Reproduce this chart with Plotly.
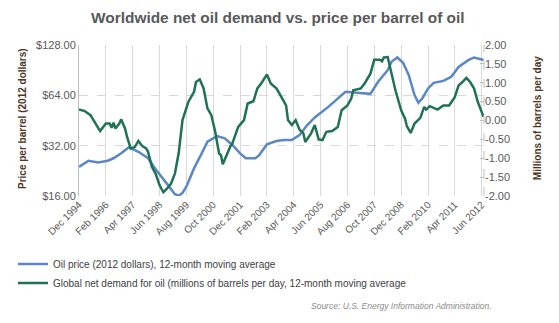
import plotly.graph_objects as go

# ---- data ----
price_dates = ["1994-12", "1995-05", "1995-10", "1996-03", "1996-06", "1996-10", "1997-02", "1997-07",
               "1997-12", "1998-04", "1998-09", "1999-02", "1999-04", "1999-06", "1999-08", "1999-12",
               "2000-04", "2000-07", "2000-12", "2001-04", "2001-08", "2001-12", "2002-03", "2002-08",
               "2002-10", "2003-02", "2003-07", "2003-11", "2004-03", "2004-07", "2004-11", "2005-03",
               "2005-10", "2006-03", "2006-07", "2006-11", "2007-04", "2007-08", "2007-12", "2008-03",
               "2008-05", "2008-07", "2008-10", "2009-01", "2009-04", "2009-07", "2009-09", "2009-11",
               "2010-02", "2010-05", "2010-10", "2011-02", "2011-06", "2011-11", "2012-02", "2012-06",
               "2012-07"]
price_values = [23.9, 26.0, 25.4, 26.0, 26.9, 28.8, 31.3, 29.4,
                26.9, 23.1, 19.5, 16.4, 16.05, 16.7, 18.2, 23.4,
                28.8, 33.8, 36.5, 35.4, 32.3, 28.8, 26.9, 26.9,
                28.1, 32.6, 34.1, 34.6, 34.6, 37.0, 42.5, 47.2,
                54.6, 61.3, 67.2, 66.6, 65.7, 65.3, 77.1, 84.5,
                90.5, 101.5, 107.8, 100.1, 84.5, 64.2, 57.7, 61.3,
                70.4, 76.0, 78.1, 82.5, 94.7, 103.9, 107.8, 104.9,
                103.9]

demand_dates = ["1994-12", "1995-03", "1995-06", "1995-09", "1995-11", "1996-02", "1996-04", "1996-05",
                "1996-06", "1996-07", "1996-09", "1996-10", "1996-12", "1997-01", "1997-03", "1997-05",
                "1997-07", "1997-09", "1997-11", "1997-12", "1998-02", "1998-04", "1998-06", "1998-08",
                "1998-10", "1998-12", "1999-02", "1999-04", "1999-06", "1999-09", "1999-12", "2000-01",
                "2000-03", "2000-05", "2000-07", "2000-09", "2000-11", "2001-01", "2001-02", "2001-03",
                "2001-05", "2001-07", "2001-08", "2001-11", "2002-02", "2002-04", "2002-07", "2002-09",
                "2002-11", "2003-02", "2003-04", "2003-07", "2003-09", "2003-12", "2004-01", "2004-03",
                "2004-05", "2004-07", "2004-09", "2004-10", "2005-01", "2005-03", "2005-05", "2005-07",
                "2005-09", "2005-12", "2006-03", "2006-05", "2006-08", "2006-10", "2006-11", "2007-03",
                "2007-05", "2007-08", "2007-10", "2008-01", "2008-02", "2008-03", "2008-05", "2008-06",
                "2008-08", "2008-09", "2008-12", "2009-02", "2009-03", "2009-05", "2009-07", "2009-10",
                "2009-12", "2010-01", "2010-03", "2010-07", "2010-10", "2011-01", "2011-04", "2011-06",
                "2011-08", "2011-10", "2011-12", "2012-02", "2012-04", "2012-06", "2012-07"]
demand_values = [0.29, 0.25, 0.14, -0.12, -0.28, -0.08, -0.08, -0.19,
                 -0.06, -0.21, -0.08, 0.03, -0.21, -0.43, -0.74, -0.71,
                 -0.54, -0.68, -0.74, -0.83, -1.23, -1.41, -1.71, -1.90,
                 -1.80, -1.67, -1.40, -0.87, 0.01, 0.49, 0.76, 1.02,
                 1.09, 0.85, 0.32, 0.14, -0.30, -0.87, -0.92, -1.16,
                 -0.92, -0.68, -0.61, -0.17, 0.01, 0.45, 0.51, 0.85,
                 0.98, 1.22, 0.98, 0.85, 0.67, 0.40, 0.01, -0.12,
                 0.01, -0.24, -0.34, -0.57, -0.34, -0.12, -0.50, -0.52,
                 -0.30, -0.28, -0.17, 0.27, 0.40, 0.58, 0.80, 0.85,
                 0.98, 1.24, 1.61, 1.61, 1.57, 1.67, 1.68, 1.46,
                 1.02, 0.80, 0.27, 0.05, -0.15, -0.33, -0.08, 0.07,
                 0.36, 0.29, 0.38, 0.29, 0.40, 0.40, 0.62, 0.93,
                 1.02, 1.13, 1.02, 0.85, 0.49, 0.23, 0.10]

x_tick_dates = ["1994-12-01", "1996-02-01", "1997-04-01", "1998-06-01", "1999-08-01", "2000-10-01",
                "2001-12-01", "2003-02-01", "2004-04-01", "2005-06-01", "2006-08-01", "2007-10-01",
                "2008-12-01", "2010-02-01", "2011-04-01", "2012-06-01"]
x_tick_labels = ["Dec 1994", "Feb 1996", "Apr 1997", "Jun 1998", "Aug 1999", "Oct 2000",
                 "Dec 2001", "Feb 2003", "Apr 2004", "Jun 2005", "Aug 2006", "Oct 2007",
                 "Dec 2008", "Feb 2010", "Apr 2011", "Jun 2012"]
price_ticks = [16, 32, 64, 128]
price_tick_labels = ["$16.00", "$32.00", "$64.00", "$128.00"]
demand_ticks = [-2.0, -1.5, -1.0, -0.5, 0.0, 0.5, 1.0, 1.5, 2.0]
demand_tick_labels = ["-2.00", "-1.50", "-1.00", "-0.50", "0.00", "0.50", "1.00", "1.50", "2.00"]

title_text = "Worldwide net oil demand vs. price per barrel of oil"
price_name = "Oil price (2012 dollars), 12-month moving average"
demand_name = "Global net demand for oil (millions of barrels per day, 12-month moving average"
left_title = "Price per barrel (2012 dollars)"
right_title = "Millions of barrels per day"
source_text = "Source: U.S. Energy Information Administration."

FONT = "Liberation Sans, Arial, sans-serif"
BLUE = "#5b87c6"
GREEN = "#1f7257"
TITLE_BROWN = "#4f3526"

fig = go.Figure()
fig.add_trace(go.Scatter(x=price_dates, y=price_values, name=price_name, mode="lines",
                         line=dict(color=BLUE, width=2.5), yaxis="y"))
fig.add_trace(go.Scatter(x=demand_dates, y=demand_values, name=demand_name, mode="lines",
                         line=dict(color=GREEN, width=2.5), yaxis="y2"))

fig.update_layout(
    width=559, height=323,
    margin=dict(l=79, r=75, t=45, b=127),
    paper_bgcolor="white", plot_bgcolor="white",
    font=dict(family=FONT, size=10, color="#595959"),
    title=dict(text="<b>" + title_text + "</b>", x=0.497, xanchor="center", y=0.947, yanchor="middle",
               font=dict(family=FONT, size=15.4, color="#595959")),
    xaxis=dict(type="date", range=["1994-12-01", "2012-07-08"], tickvals=x_tick_dates,
               ticktext=x_tick_labels, tickangle=-45, showgrid=True, gridcolor="#d9d9d9", gridwidth=1,
               zeroline=False, showline=False, ticks="", tickfont=dict(size=10, color="#595959")),
    yaxis=dict(type="log", range=[1.2041199826559248, 2.1072099696478683], tickvals=price_ticks,
               ticktext=price_tick_labels, showgrid=True, gridcolor="#d9d9d9", griddash="dash",
               showline=True, linecolor="#bfbfbf", linewidth=1, ticks="", zeroline=False,
               tickfont=dict(size=11, color="#595959")),
    yaxis2=dict(overlaying="y", side="right", range=[-2, 2], tickvals=demand_ticks,
                ticktext=demand_tick_labels, showgrid=False, zeroline=False, showline=False,
                ticks="inside", ticklen=4, tickcolor="#bfbfbf",
                tickfont=dict(size=11, color="#595959")),
    legend=dict(x=-0.163, xanchor="left", y=-0.355, yanchor="top", orientation="v",
                font=dict(family=FONT, size=10, color="#404040"), bgcolor="rgba(0,0,0,0)"),
    showlegend=True,
)

fig.add_shape(type="line", xref="paper", yref="paper", x0=1, x1=1, y0=0, y1=1,
              line=dict(color="#bfbfbf", width=1, dash="dash"))

fig.add_annotation(text="<b>" + left_title + "</b>", xref="paper", yref="paper", x=-0.141, y=0.516,
                   textangle=-90, showarrow=False, xanchor="center", yanchor="middle",
                   font=dict(family=FONT, size=10, color=TITLE_BROWN))
fig.add_annotation(text="<b>" + right_title + "</b>", xref="paper", yref="paper", x=1.131, y=0.516,
                   textangle=-90, showarrow=False, xanchor="center", yanchor="middle",
                   font=dict(family=FONT, size=10, color=TITLE_BROWN))
fig.add_annotation(text="<i>" + source_text + "</i>", xref="paper", yref="paper", x=1.0247, y=-0.73,
                   showarrow=False, xanchor="right", yanchor="middle",
                   font=dict(family=FONT, size=8.5, color="#8c8c8c"))

fig.write_html("out.html")
